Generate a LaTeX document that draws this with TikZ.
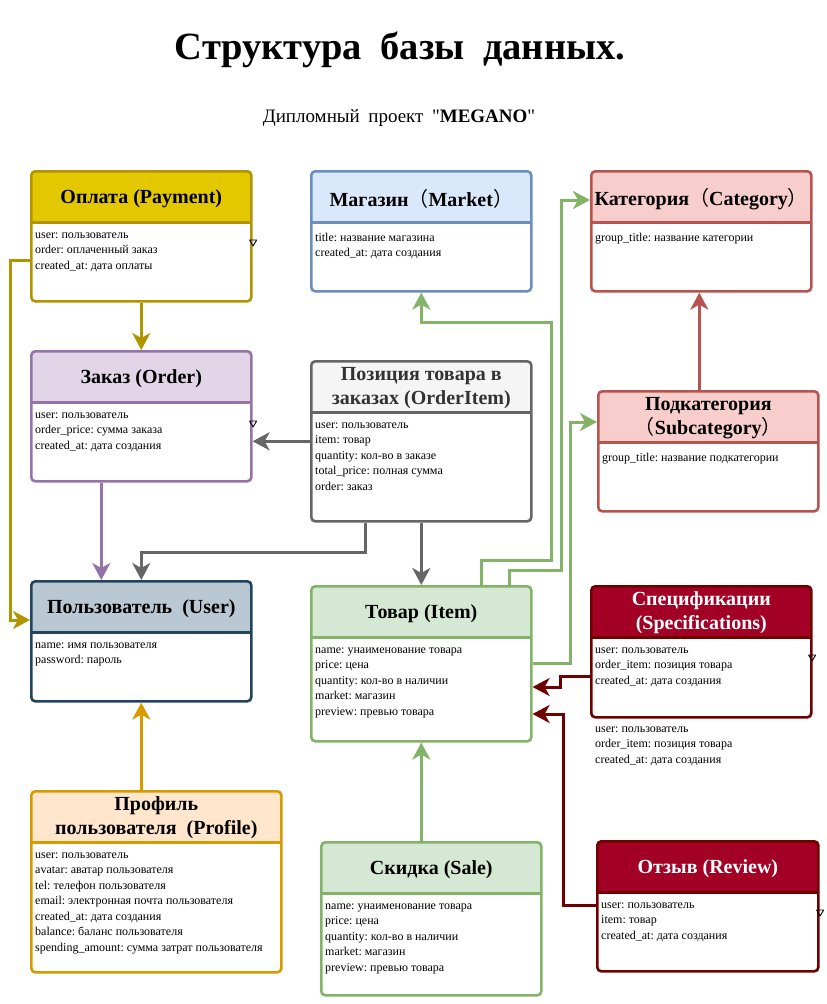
\documentclass[tikz,border=0pt]{standalone}
\usepackage{fontspec}
\setmainfont{Liberation Serif}[Ligatures=TeXOff]
\newfontfamily\cjk{Noto Sans CJK SC}
\usetikzlibrary{arrows.meta}
\frenchspacing

\definecolor{payfill}{HTML}{E3C800}\definecolor{paydraw}{HTML}{B09500}
\definecolor{mktfill}{HTML}{DAE8FC}\definecolor{mktdraw}{HTML}{6C8EBF}
\definecolor{catfill}{HTML}{F8CECC}\definecolor{catdraw}{HTML}{B85450}
\definecolor{ordfill}{HTML}{E1D5E7}\definecolor{orddraw}{HTML}{9673A6}
\definecolor{oitfill}{HTML}{F5F5F5}\definecolor{oitdraw}{HTML}{666666}
\definecolor{oittext}{HTML}{333333}
\definecolor{usrfill}{HTML}{BAC8D3}\definecolor{usrdraw}{HTML}{23445D}
\definecolor{itmfill}{HTML}{D5E8D4}\definecolor{itmdraw}{HTML}{82B366}
\definecolor{spcfill}{HTML}{A20025}\definecolor{spcdraw}{HTML}{6F0000}
\definecolor{prffill}{HTML}{FFE6CC}\definecolor{prfdraw}{HTML}{D79B00}

\begin{document}
\begin{tikzpicture}[x=1pt,y=-1pt]
				\tikzstyle{every node}=[inner sep=0pt]
				\tikzstyle{hd}=[font=\fontsize{20}{24}\selectfont\bfseries, align=center]
				\tikzstyle{attr}=[font=\fontsize{12}{15.5}\selectfont, align=left, anchor=north west]
				\tikzstyle{link}=[line width=3pt, -{Stealth[length=17pt,width=18pt,inset=5pt]}]
				\tikzstyle{tri}=[black, line width=0.9pt, line join=round]
				\tikzset{tbl/.style 2 args={draw=#1, line width=2.6pt, fill=white, rounded corners=4pt,
					anchor=north west, minimum width=220pt,
					path picture={\fill[#2, sharp corners] (path picture bounding box.north west) rectangle ([yshift=-51pt]path picture bounding box.north east);
						\draw[#1, line width=2.6pt, sharp corners] ([yshift=-51pt]path picture bounding box.north west) -- ([yshift=-51pt]path picture bounding box.north east);}}}
				\useasboundingbox (0,0) rectangle (827,1004);
				\fill[white] (0,0) rectangle (827,1004);
				% titles
				\node[anchor=base, font=\fontsize{38.5}{44}\selectfont\bfseries] (title) at (400,59) {Структура\hspace{0.48em}базы\hspace{0.48em}данных.};
				\node[anchor=base, font=\fontsize{19}{22}\selectfont] (subtitle) at (399,122) {Дипломный\hspace{0.45em}проект\hspace{0.45em}"\textbf{MEGANO}"};
				% tables
				\node[tbl={paydraw}{payfill}, minimum height=130pt] (pay) at (30,170) {};
				\node[hd] (payh) at ([yshift=-29pt]pay.north) {Оплата (Payment)};
				\node[attr] (payl) at ([xshift=5pt,yshift=-62.5pt]pay.north west) {user: пользователь\\order: оплаченный заказ\\created\_at: дата оплаты};
				\node[tbl={mktdraw}{mktfill}, minimum height=120pt] (mkt) at (310,170) {};
				\node[hd] (mkth) at ([yshift=-29pt]mkt.north) {Магазин{\cjk\mdseries （}Market{\cjk\mdseries ）}};
				\node[attr] (mktl) at ([xshift=5pt,yshift=-62.5pt]mkt.north west) {title: название магазина\\created\_at: дата создания};
				\node[tbl={catdraw}{catfill}, minimum height=120pt] (cat) at (590,170) {};
				\node[hd] (cath) at ([yshift=-29pt]cat.north) {Категория{\cjk\mdseries （}Category{\cjk\mdseries ）}};
				\node[attr] (catl) at ([xshift=5pt,yshift=-62.5pt]cat.north west) {group\_title: название категории};
				\node[tbl={orddraw}{ordfill}, minimum height=130pt] (ord) at (30,350) {};
				\node[hd] (ordh) at ([yshift=-29pt]ord.north) {Заказ (Order)};
				\node[attr] (ordl) at ([xshift=5pt,yshift=-62.5pt]ord.north west) {user: пользователь\\order\_price: сумма заказа\\created\_at: дата создания};
				\node[tbl={oitdraw}{oitfill}, minimum height=160pt] (oit) at (310,360) {};
				\node[hd, text=oittext] (oith) at ([yshift=-28pt]oit.north) {Позиция товара в\\заказах (OrderItem)};
				\node[attr] (oitl) at ([xshift=5pt,yshift=-62.5pt]oit.north west) {user: пользователь\\item: товар\\quantity: кол-во в заказе\\total\_price: полная сумма\\order: заказ};
				\node[tbl={catdraw}{catfill}, minimum height=120pt] (sub) at (597,390) {};
				\node[hd] (subh) at ([yshift=-28pt]sub.north) {Подкатегория\\{\cjk\mdseries （}Subcategory{\cjk\mdseries ）}};
				\node[attr] (subl) at ([xshift=5pt,yshift=-62.5pt]sub.north west) {group\_title: название подкатегории};
				\node[tbl={usrdraw}{usrfill}, minimum height=120pt] (usr) at (30,580) {};
				\node[hd] (usrh) at ([yshift=-29pt]usr.north) {Пользователь\ \ (User)};
				\node[attr] (usrl) at ([xshift=5pt,yshift=-62.5pt]usr.north west) {name: имя пользователя\\password: пароль};
				\node[tbl={itmdraw}{itmfill}, minimum height=155pt] (itm) at (310,585) {};
				\node[hd] (itmh) at ([yshift=-29pt]itm.north) {Товар (Item)};
				\node[attr] (itml) at ([xshift=5pt,yshift=-62.5pt]itm.north west) {name: унаименование товара\\price: цена\\quantity: кол-во в наличии\\market: магазин\\preview: превью товара};
				\node[tbl={spcdraw}{spcfill}, minimum height=131pt] (spc) at (590,585) {};
				\node[hd, text=white] (spch) at ([yshift=-28pt]spc.north) {Спецификации\\(Specifications)};
				\node[attr] (spcl) at ([xshift=5pt,yshift=-62.5pt]spc.north west) {user: пользователь\\order\_item: позиция товара\\created\_at: дата создания};
				\node[attr] (spcx) at ([xshift=5pt,yshift=-8pt]spc.south west) {user: пользователь\\order\_item: позиция товара\\created\_at: дата создания};
				\node[tbl={prfdraw}{prffill}, minimum width=250pt, minimum height=181pt] (prf) at (30,790) {};
				\node[hd] (prfh) at ([yshift=-28pt]prf.north) {Профиль\\пользователя\ \ (Profile)};
				\node[attr] (prfl) at ([xshift=5pt,yshift=-62.5pt]prf.north west) {user: пользователь\\avatar: аватар пользователя\\tel: телефон пользователя\\email: электронная почта пользователя\\created\_at: дата создания\\balance: баланс пользователя\\spending\_amount: сумма затрат пользователя};
				\node[tbl={itmdraw}{itmfill}, minimum height=153pt] (sal) at (320,841) {};
				\node[hd] (salh) at ([yshift=-29pt]sal.north) {Скидка (Sale)};
				\node[attr] (sall) at ([xshift=5pt,yshift=-62.5pt]sal.north west) {name: унаименование товара\\price: цена\\quantity: кол-во в наличии\\market: магазин\\preview: превью товара};
				\node[tbl={spcdraw}{spcfill}, minimum width=221pt, minimum height=130pt] (rev) at (596,840) {};
				\node[hd, text=white] (revh) at ([yshift=-29pt]rev.north) {Отзыв (Review)};
				\node[attr] (revl) at ([xshift=5pt,yshift=-62.5pt]rev.north west) {user: пользователь\\item: товар\\created\_at: дата создания};
				% links
				\draw[link, paydraw] (pay.south) -- (ord.north);
				\draw[link, paydraw] ([yshift=-90pt]pay.north west) -- ++(-20,0) |- ([yshift=-40pt]usr.north west);
				\draw[link, orddraw] ([xshift=-40pt]ord.south) -- ([xshift=-40pt]usr.north);
				\draw[link, oitdraw] ([xshift=-56pt]oit.south) -- ++(0,30) -| (usr.north);
				\draw[link, oitdraw] (oit.south) -- (itm.north);
				\draw[link, oitdraw] (oit.west) -- (oit.west -| ord.east);
				\draw[link, itmdraw] ([xshift=60pt]itm.north) -- ++(0,-25) -- ++(70,0) -- ++(0,-238) -| (mkt.south);
				\draw[link, itmdraw] ([xshift=88pt]itm.north) -- ++(0,-15) -- ++(52,0) |- ([yshift=-30pt]cat.north west);
				\draw[link, itmdraw] (itm.east) -- ++(38,0) |- ([yshift=-32pt]sub.north west);
				\draw[link, catdraw] ([xshift=-9pt]sub.north) -- ([xshift=-9pt]sub.north |- cat.south);
				\draw[link, prfdraw] (usr.south |- prf.north) -- (usr.south);
				\draw[link, itmdraw] (itm.south |- sal.north) -- (itm.south);
				\draw[link, spcdraw] ([yshift=-91pt]spc.north west) -- ++(-30,0) |- ([yshift=-102pt]itm.north east);
				\draw[link, spcdraw] ([yshift=-65pt]rev.north west) -- ++(-33,0) |- ([yshift=-129pt]itm.north east);
				% stray markers
				\draw[tri] ([xshift=-3pt,yshift=-70pt]pay.north east) -- ++(7,0) -- ++(-3.5,6) -- cycle;
				\draw[tri] ([xshift=-3pt,yshift=-71pt]ord.north east) -- ++(7,0) -- ++(-3.5,6) -- cycle;
				\draw[tri] ([xshift=-4pt,yshift=-70pt]spc.north east) -- ++(7,0) -- ++(-3.5,6) -- cycle;
				\draw[tri] ([xshift=-3pt,yshift=-70pt]rev.north east) -- ++(7,0) -- ++(-3.5,6) -- cycle;
\end{tikzpicture}
\end{document}
